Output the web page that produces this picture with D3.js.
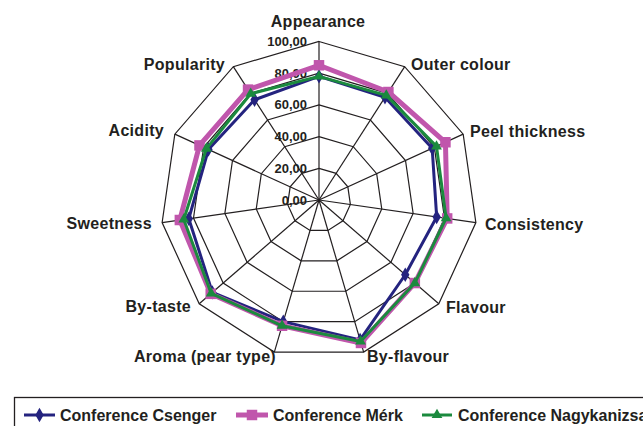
<!DOCTYPE html>
<html>
<head>
<meta charset="utf-8">
<script src="https://cdn.jsdelivr.net/npm/d3@7"></script>
<style>
  body { margin: 0; background: #fff; }
  text { font-family: "Liberation Sans", Arial, sans-serif; font-weight: bold; fill: #231f20; }
</style>
</head>
<body>
<div id="chart"></div>
<script>
var categories = ["Appearance", "Outer colour", "Peel thickness", "Consistency", "Flavour",
  "By-flavour", "Aroma (pear type)", "By-taste", "Sweetness", "Acidity", "Popularity"];
var csenger     = [78, 77, 78.5, 75, 72, 92, 80, 89, 83, 76.7, 75.2];
var merk        = [85, 81, 87.7, 81.7, 80, 94, 82.7, 90.4, 88.7, 82.9, 82.8];
var nagykanizsa = [78, 78.5, 81.5, 81, 80, 93, 82.7, 90, 86.2, 78.1, 79.7];
var tickValues = [0, 20, 40, 60, 80, 100];
var tickLabels = ["0,00", "20,00", "40,00", "60,00", "80,00", "100,00"];
var seriesNames = ["Conference Csenger", "Conference Mérk", "Conference Nagykanizsa"];

var width = 643, height = 426;
var cx = 319, cy = 200, R = 158.5;

var svg = d3.select("#chart").append("svg")
  .attr("width", width)
  .attr("height", height);

var r = d3.scaleLinear().domain([0, 100]).range([0, R]);
var angle = d3.scaleLinear().domain([0, categories.length]).range([0, 2 * Math.PI]);

function pt(i, v) {
  var a = angle(i);
  return [cx + r(v) * Math.sin(a), cy - r(v) * Math.cos(a)];
}

var g = svg.append("g");

// grid polygons
tickValues.slice(1).forEach(function(t) {
  var pts = categories.map(function(c, i) { return pt(i, t); });
  g.append("polygon")
    .attr("points", pts.map(function(p) { return p.join(","); }).join(" "))
    .attr("fill", "none")
    .attr("stroke", "#231f20")
    .attr("stroke-width", 1.2);
});

// spokes
categories.forEach(function(c, i) {
  var p = pt(i, 100);
  g.append("line")
    .attr("x1", cx).attr("y1", cy)
    .attr("x2", p[0]).attr("y2", p[1])
    .attr("stroke", "#231f20")
    .attr("stroke-width", 1.2);
});

// tick labels
tickValues.forEach(function(t, k) {
  g.append("text")
    .attr("x", cx - 12)
    .attr("y", cy - r(t) + 4.5)
    .attr("text-anchor", "end")
    .style("font-size", "13px")
    .text(tickLabels[k]);
});

// category labels
var labelPos = [
  [318, 27, "middle"], [411, 70, "start"], [470, 137, "start"], [485, 230, "start"],
  [446, 313, "start"], [367, 362, "start"], [276, 362, "end"], [191, 312, "end"],
  [152, 229, "end"], [164, 136, "end"], [225, 70, "end"]
];
categories.forEach(function(c, i) {
  g.append("text")
    .attr("x", labelPos[i][0])
    .attr("y", labelPos[i][1])
    .attr("text-anchor", labelPos[i][2])
    .style("font-size", "16px")
    .style("letter-spacing", "0.3px")
    .text(c);
});

var series = [
  { name: seriesNames[0], values: csenger, color: "#24237f", width: 3, marker: "diamond", size: 60 },
  { name: seriesNames[1], values: merk, color: "#c056ac", width: 5, marker: "square", size: 110 },
  { name: seriesNames[2], values: nagykanizsa, color: "#1b8a3e", width: 3, marker: "triangle", size: 50 }
];
var symbolType = { diamond: d3.symbolDiamond, square: d3.symbolSquare, triangle: d3.symbolTriangle };

var line = d3.line().curve(d3.curveLinearClosed);

series.forEach(function(s) {
  var pts = s.values.map(function(v, i) { return pt(i, v); });
  g.append("path")
    .attr("d", line(pts))
    .attr("fill", "none")
    .attr("stroke", s.color)
    .attr("stroke-width", s.width)
    .attr("stroke-linejoin", "round");
  g.selectAll(null)
    .data(pts)
    .enter().append("path")
    .attr("transform", function(p) { return "translate(" + p[0] + "," + p[1] + ")"; })
    .attr("d", d3.symbol().type(symbolType[s.marker]).size(s.size))
    .attr("fill", s.color);
});

// legend (the box runs off the right edge like the original)
var lg = svg.append("g");
lg.append("rect")
  .attr("x", 14.5).attr("y", 397.5)
  .attr("width", 700).attr("height", 40)
  .attr("fill", "none")
  .attr("stroke", "#231f20")
  .attr("stroke-width", 1.3);

var legendX = [24, 236, 422];
var legendLen = [31, 32, 30];
var legendTextX = [60, 273, 458];
series.forEach(function(s, i) {
  var x = legendX[i], y = 415;
  lg.append("line")
    .attr("x1", x).attr("x2", x + legendLen[i])
    .attr("y1", y).attr("y2", y)
    .attr("stroke", s.color)
    .attr("stroke-width", s.width);
  lg.append("path")
    .attr("transform", "translate(" + (x + legendLen[i] / 2) + "," + y + ")")
    .attr("d", d3.symbol().type(symbolType[s.marker]).size(s.size))
    .attr("fill", s.color);
  lg.append("text")
    .attr("x", legendTextX[i])
    .attr("y", 421)
    .style("font-size", "16px")
    .text(s.name);
});
</script>
</body>
</html>
